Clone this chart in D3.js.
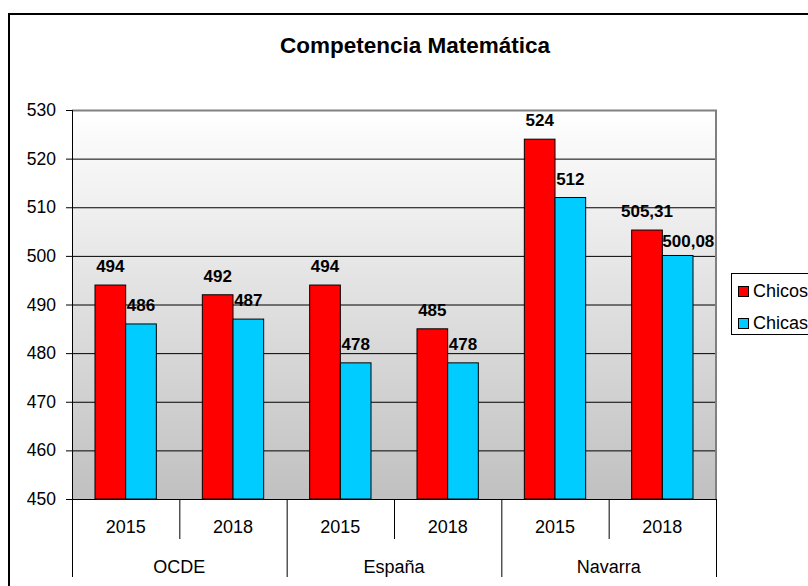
<!DOCTYPE html>
<html>
<head>
<meta charset="utf-8">
<script src="https://cdn.jsdelivr.net/npm/d3@7"></script>
<style>
  body { margin: 0; background: #fff; }
  svg { display: block; font-family: "Liberation Sans", Arial, sans-serif; }
</style>
</head>
<body>
<div id="chart"></div>
<script>
// Data
const groups = ["OCDE", "España", "Navarra"];
const years = ["2015", "2018"];
const series = ["Chicos", "Chicas"];
const chicos = [494, 492, 494, 485, 524, 505.31];
const chicas = [486, 487, 478, 478, 512, 500.08];
const yTicks = [450, 460, 470, 480, 490, 500, 510, 520, 530];
const colors = ["#ff0000", "#00ccff"];

const width = 808;
const height = 586;
const plot = { left: 72, right: 716, top: 110, bottom: 499 };

// one entry per category (group + year)
const cats = [];
groups.forEach(g => years.forEach(y => cats.push({ group: g, year: y })));
const rows = cats.map((c, i) => ({ ...c, key: i, values: [chicos[i], chicas[i]] }));

const fmt = v => Number.isInteger(v) ? String(v) : v.toFixed(2).replace(".", ",");

const svg = d3.select("#chart")
    .append("svg")
    .attr("width", width)
    .attr("height", height);

// Gradient background for the plot area
const grad = svg.append("defs").append("linearGradient")
    .attr("id", "bg")
    .attr("x1", 0).attr("y1", 0).attr("x2", 0).attr("y2", 1);
grad.append("stop").attr("offset", "0%").attr("stop-color", "#ffffff");
grad.append("stop").attr("offset", "100%").attr("stop-color", "#c0c0c0");

// Outer chart border
svg.append("rect")
    .attr("x", 9).attr("y", 14)
    .attr("width", 830).attr("height", 600)
    .attr("fill", "none")
    .attr("stroke", "#000")
    .attr("stroke-width", 2);

// Title
svg.append("text")
    .attr("x", 415)
    .attr("y", 53)
    .attr("text-anchor", "middle")
    .style("font-size", "22.5px")
    .style("font-weight", "bold")
    .text("Competencia Matemática");

const x0 = d3.scaleBand()
    .domain(rows.map(d => d.key))
    .range([plot.left, plot.right]);

const x1 = d3.scaleBand()
    .domain(series)
    .range([0, x0.bandwidth()])
    .paddingInner(0)
    .paddingOuter(0.75);

const y = d3.scaleLinear()
    .domain([450, 530])
    .range([plot.bottom, plot.top]);

svg.append("rect")
    .attr("x", plot.left).attr("y", plot.top)
    .attr("width", plot.right - plot.left)
    .attr("height", plot.bottom - plot.top)
    .attr("fill", "url(#bg)");

// Gridlines
svg.append("g")
    .selectAll("line")
    .data(yTicks.filter(t => t > 450 && t < 530))
    .enter()
    .append("line")
    .attr("x1", plot.left).attr("x2", plot.right)
    .attr("y1", d => y(d) + 0.5).attr("y2", d => y(d) + 0.5)
    .attr("stroke", "#000");

// Plot frame (top and right, grey)
svg.append("path")
    .attr("d", `M${plot.left},${plot.top + 0.5}H${plot.right}V${plot.bottom}`)
    .attr("fill", "none")
    .attr("stroke", "#808080")
    .attr("stroke-width", 2);

// Bars
const cat = svg.append("g")
    .selectAll("g")
    .data(rows)
    .enter()
    .append("g")
    .attr("transform", d => `translate(${x0(d.key)},0)`);

cat.selectAll("rect")
    .data(d => d.values.map((v, i) => ({ s: series[i], v: v, i: i })))
    .enter()
    .append("rect")
    .attr("x", d => x1(d.s))
    .attr("y", d => y(d.v))
    .attr("width", x1.bandwidth())
    .attr("height", d => y(450) - y(d.v))
    .attr("fill", d => colors[d.i])
    .attr("stroke", "#000")
    .attr("stroke-width", 1);

// Data labels
cat.each(function (row) {
    const g = d3.select(this);
    row.values.forEach((v, i) => {
        const cx = x1(series[i]) + x1.bandwidth() / 2;
        const t = g.append("text")
            .attr("x", cx)
            .attr("y", y(v) - 13)
            .attr("text-anchor", "middle")
            .style("font-size", "17px")
            .style("font-weight", "bold")
            .text(fmt(v));
        // push second label right if it would sit on the first bar
        if (i === 1) {
            const w = t.node().getComputedTextLength();
            const redRight = x1(series[0]) + x1.bandwidth();
            const baseline = y(v) - 13;
            if (cx - w / 2 < redRight && baseline > y(row.values[0])) {
                t.attr("x", redRight).attr("text-anchor", "start").attr("y", y(v) - 8);
            }
        }
    });
});

// Y axis
const yAxis = svg.append("g")
    .attr("transform", `translate(${plot.left},0)`)
    .call(d3.axisLeft(y).tickValues(yTicks).tickSize(6).tickPadding(10).tickSizeOuter(0));
yAxis.select(".domain").remove();
yAxis.selectAll(".tick line").attr("stroke", "#000");
yAxis.selectAll("text")
    .style("font-size", "17.5px")
    .style("font-family", "'Liberation Sans', Arial, sans-serif")
    .attr("fill", "#000");

// Axis lines
svg.append("line")
    .attr("x1", plot.left + 0.5).attr("x2", plot.left + 0.5)
    .attr("y1", plot.top).attr("y2", 577)
    .attr("stroke", "#000");
svg.append("line")
    .attr("x1", plot.left).attr("x2", plot.right)
    .attr("y1", plot.bottom + 0.5).attr("y2", plot.bottom + 0.5)
    .attr("stroke", "#000");

// Category separators
const bounds = d3.range(1, rows.length + 1);
svg.append("g")
    .selectAll("line")
    .data(bounds)
    .enter()
    .append("line")
    .attr("x1", i => (i < rows.length ? x0(i) : plot.right) + 0.5)
    .attr("x2", i => (i < rows.length ? x0(i) : plot.right) + 0.5)
    .attr("y1", plot.bottom)
    .attr("y2", i => i % years.length === 0 ? 577 : 539)
    .attr("stroke", "#000");

// Year labels
svg.append("g")
    .selectAll("text")
    .data(rows)
    .enter()
    .append("text")
    .attr("x", d => x0(d.key) + x0.bandwidth() / 2)
    .attr("y", 533)
    .attr("text-anchor", "middle")
    .style("font-size", "18px")
    .text(d => d.year);

// Group labels
svg.append("g")
    .selectAll("text")
    .data(groups)
    .enter()
    .append("text")
    .attr("x", (d, i) => {
        const a = x0(i * years.length);
        return a + x0.bandwidth() * years.length / 2;
    })
    .attr("y", 573)
    .attr("text-anchor", "middle")
    .style("font-size", "18px")
    .text(d => d);

// Legend
const legend = svg.append("g").attr("transform", "translate(731,273)");
legend.append("rect")
    .attr("x", 0.5).attr("y", 0.5)
    .attr("width", 120).attr("height", 61)
    .attr("fill", "#fff")
    .attr("stroke", "#000");
series.forEach((s, i) => {
    const row = legend.append("g").attr("transform", `translate(7,${13 + i * 32})`);
    row.append("rect")
        .attr("x", 0.5).attr("y", 0.5)
        .attr("width", 10).attr("height", 10)
        .attr("fill", colors[i])
        .attr("stroke", "#000");
    row.append("text")
        .attr("x", 15)
        .attr("y", 11)
        .style("font-size", "18px")
        .text(s);
});
</script>
</body>
</html>
